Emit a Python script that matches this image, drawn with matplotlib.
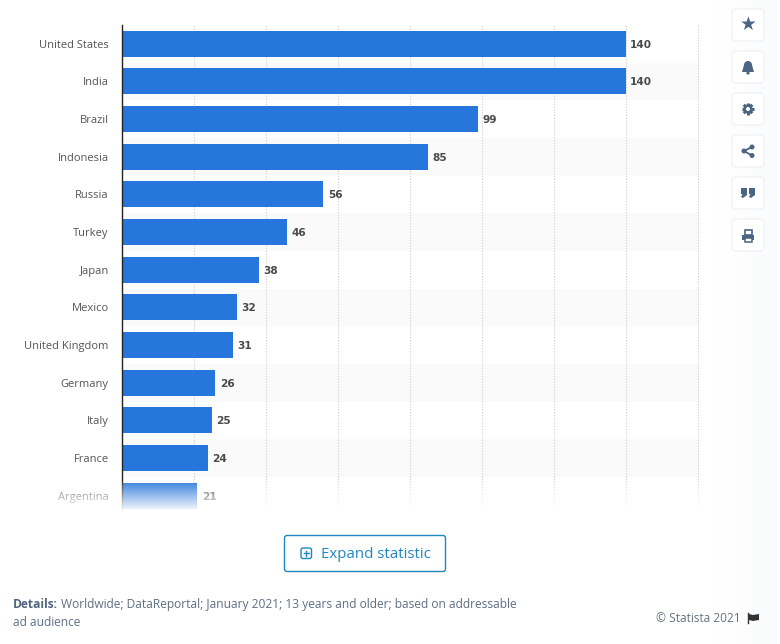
import numpy as np
import matplotlib
matplotlib.use('Agg')
import matplotlib.pyplot as plt
from matplotlib.patches import FancyBboxPatch, Circle, Rectangle, Polygon

plt.rcParams['font.family'] = ['Open Sans', 'DejaVu Sans']

countries = ['United States', 'India', 'Brazil', 'Indonesia', 'Russia', 'Turkey', 'Japan',
             'Mexico', 'United Kingdom', 'Germany', 'Italy', 'France', 'Argentina']
users = [140, 140, 99, 85, 56, 46, 38, 32, 31, 26, 25, 24, 21]
grid_ticks = [20, 40, 60, 80, 100, 120, 140, 160]

W, H = 780, 644
BLUE = '#2776dc'
ICON = '#4a6584'

fig = plt.figure(figsize=(W / 100, H / 100), dpi=100, facecolor='white')

# chart axes, 3.6 px per user unit and 37.67 px per row
ax = fig.add_axes([121.8 / W, 1 - 509.7 / H, 577 / W, 485 / H])
ax.set_xlim(0, 577 / 3.6)
ax.set_ylim(12.37, -0.504)
ax.set_facecolor('none')
for s in ['top', 'right', 'bottom']:
    ax.spines[s].set_visible(False)
ax.spines['left'].set_color('#222222')
ax.spines['left'].set_linewidth(1)

# alternating stripes
for i in range(1, len(countries), 2):
    ax.axhspan(i - 0.5, i + 0.5, color='#fafafa', lw=0, zorder=0)
for g in grid_ticks:
    ax.axvline(g, color='#cccccc', lw=0.8, ls=(0, (1, 1.5)), zorder=1)

y = np.arange(len(countries))
ax.barh(y, users, height=26 / 37.67, color=BLUE, zorder=2)
for yi, v in zip(y, users):
    ax.text(v + 1.2, yi, str(v), va='center_baseline', ha='left', fontsize=7.6, fontweight='bold',
            family='DejaVu Sans', color='#4a4a4a', zorder=3)

ax.set_yticks(y)
ax.set_yticklabels(countries, fontsize=8, color='#555555')
ax.tick_params(axis='y', length=0, pad=9.4)
ax.set_xticks([])

# pixel coordinates for the page furniture
ui = fig.add_axes([0, 0, 1, 1], zorder=5)
ui.axis('off')
ui.patch.set_alpha(0)

# bottom fade of the chart
fade = np.zeros((64, 2, 4))
fade[..., :3] = 1
fade[:, :, 3] = np.linspace(0.12, 1, 64)[:, None]
ui.imshow(fade, extent=[0, 715, 512, 482], aspect='auto', zorder=1, interpolation='bilinear')

# side shadow
shade = np.ones((2, 60, 4))
shade[..., :3] = np.array([0.93, 0.945, 0.96])
shade[:, :, 3] = np.linspace(0, 0.3, 60)
ui.imshow(shade, extent=[718, 778, 644, 0], aspect='auto', zorder=1)
ui.set_xlim(0, W)
ui.set_ylim(H, 0)

# icon buttons
tops = [8, 50, 92, 134, 176, 218]
for t in tops:
    ui.add_patch(FancyBboxPatch((732, t + 1), 32, 32, boxstyle='round,pad=0,rounding_size=4',
                                fc='white', ec='#f2f3f5', lw=1, zorder=2))
cx = 748
ui.text(cx, 24.5, '★', ha='center', va='center', fontsize=13.5, color=ICON, zorder=3,
        family='DejaVu Sans')
# bell
ui.add_patch(Circle((cx, 65), 4, fc=ICON, ec='none', zorder=3))
ui.add_patch(Polygon([(cx - 4, 65), (cx + 4, 65), (cx + 6, 72), (cx - 6, 72)], fc=ICON, ec='none', zorder=3))
ui.add_patch(Circle((cx, 73), 1.6, fc=ICON, ec='none', zorder=3))
# gear
for ang in np.arange(0, 180, 45):
    dx, dy = 6 * np.cos(np.radians(ang)), 6 * np.sin(np.radians(ang))
    ui.plot([cx - dx, cx + dx], [109 - dy, 109 + dy], color=ICON, lw=2.2, zorder=3, solid_capstyle='butt')
ui.add_patch(Circle((cx, 109), 4.6, fc=ICON, ec='none', zorder=4))
ui.add_patch(Circle((cx, 109), 2, fc='white', ec='none', zorder=5))
# share
ui.plot([cx + 4, cx - 4, cx + 4], [147, 151, 155.5], color=ICON, lw=1.3, zorder=3)
for px, py in [(cx + 4, 147), (cx - 4, 151), (cx + 4, 155.5)]:
    ui.add_patch(Circle((px, py), 2.5, fc=ICON, ec='none', zorder=4))
# quotes
for qx in [cx - 4, cx + 4]:
    ui.add_patch(Rectangle((qx - 3, 188), 6, 6, fc=ICON, ec='none', zorder=3))
    ui.add_patch(Polygon([(qx + 3, 193), (qx + 3, 195), (qx - 1, 198), (qx - 3, 197), (qx - 1, 193)],
                         fc=ICON, ec='none', zorder=3))
# print
ui.add_patch(Rectangle((cx - 3.5, 230), 7, 5, fc='white', ec=ICON, lw=1.2, zorder=3))
ui.add_patch(Rectangle((cx - 6, 235), 12, 5, fc=ICON, ec='none', zorder=4))
ui.add_patch(Rectangle((cx - 3.5, 238), 7, 3.5, fc='white', ec=ICON, lw=1.1, zorder=5))

# expand button
TEAL = '#1f87bd'
ui.add_patch(FancyBboxPatch((284.5, 535.5), 161, 36, boxstyle='round,pad=0,rounding_size=2.5',
                            fc='white', ec=TEAL, lw=1, zorder=2))
ui.add_patch(FancyBboxPatch((301, 548), 10.5, 10.5, boxstyle='round,pad=0,rounding_size=2',
                            fc='white', ec=TEAL, lw=1, zorder=3))
ui.plot([303.5, 309], [553.2, 553.2], color=TEAL, lw=1, zorder=4)
ui.plot([306.2, 306.2], [550.5, 556], color=TEAL, lw=1, zorder=4)
ui.text(321, 554.5, 'Expand statistic', ha='left', va='center', fontsize=10.8, color=TEAL, zorder=3)

# footer
GREY = '#5f6f84'
ui.text(13, 604.5, 'Details:', ha='left', va='center', fontsize=8.65, fontweight='bold',
        color='#4f6580', zorder=3)
ui.text(61, 604.5, 'Worldwide; DataReportal; January 2021; 13 years and older; based on addressable',
        ha='left', va='center', fontsize=8.65, color=GREY, zorder=3)
ui.text(13, 623, 'ad audience', ha='left', va='center', fontsize=8.65, color=GREY, zorder=3)
ui.text(741, 618, '© Statista 2021', ha='right', va='center', fontsize=8.6, color='#66727f', zorder=3)
# flag
ui.plot([748, 748], [613, 623], color='#333333', lw=1, zorder=3)
ui.add_patch(Polygon([(749, 614), (753, 615), (759, 614), (759, 620), (753, 621), (749, 620)],
                     fc='#333333', ec='none', zorder=3))

fig.savefig('out.png', dpi=100)
